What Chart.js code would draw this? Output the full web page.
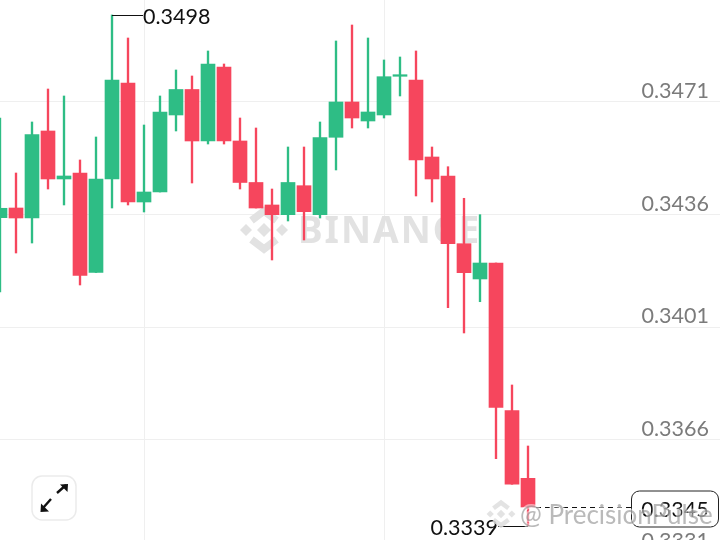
<!DOCTYPE html>
<html>
<head>
<meta charset="utf-8">
<style>
html,body{margin:0;padding:0;background:#fff;width:720px;height:540px;overflow:hidden}
#box{position:absolute;left:0;top:0;width:720px;height:600px}
</style>
<script src="https://cdn.jsdelivr.net/npm/chart.js@4"></script>
</head>
<body>
<div id="box"><canvas id="c" width="720" height="600"></canvas></div>
<script>
const opens  = [0.343501,0.343802,0.343491,0.346198,0.344705,0.344891,0.341796,0.344705,0.347691,0.343989,0.3443,0.346696,0.347489,0.345887,0.348189,0.345887,0.344596,0.343896,0.343594,0.344496,0.343594,0.346002,0.3471,0.346509,0.346696,0.3479,0.347784,0.345389,0.344798,0.342692,0.341594,0.342091,0.337496,0.335393];
const highs  = [0.346602,0.344891,0.346478,0.347504,0.347287,0.345296,0.346011,0.349807,0.349091,0.346384,0.347287,0.348096,0.347909,0.348687,0.348282,0.346602,0.346291,0.344393,0.3457,0.3457,0.346478,0.348998,0.349495,0.349091,0.348407,0.3485,0.348687,0.3457,0.345087,0.344104,0.343594,0.342091,0.338296,0.336398];
const lows   = [0.341189,0.342402,0.342713,0.344393,0.343896,0.341407,0.341796,0.343802,0.343896,0.343678,0.3443,0.346198,0.34458,0.345793,0.345793,0.344393,0.343802,0.342185,0.343398,0.342807,0.343491,0.344985,0.346291,0.346291,0.346602,0.347287,0.344176,0.343989,0.340701,0.339914,0.340887,0.336003,0.335207,0.333909];
const closes = [0.343793,0.343491,0.346089,0.344705,0.344798,0.341702,0.344705,0.347784,0.343989,0.3443,0.346789,0.347489,0.345887,0.348282,0.345887,0.344596,0.343802,0.343594,0.344596,0.343687,0.345989,0.3471,0.346602,0.346789,0.347887,0.347949,0.345296,0.344705,0.342692,0.34179,0.342091,0.337602,0.335207,0.3345];
const slotCount = 46;
const slots = Array.from({length:slotCount},(_,i)=>String(i));
const gridSlots = [9,24];
const priceTicks = [0.3471,0.3436,0.3401,0.3366,0.3331];
const highLabel = {slot:7, price:0.3498, text:'0.3498'};
const lowLabel = {slot:33, price:0.3339, text:'0.3339'};
const lastPrice = {slot:33, price:0.3345, text:'0.3345'};
const GREEN='#2EBD85', RED='#F6465D';
const FONT='Lato, "Noto Sans", sans-serif';

const colors = closes.map((c,i)=>c>=opens[i]?GREEN:RED);

function logo(g,cx,cy,s){
  const sq=(x,y,r)=>{g.beginPath();g.moveTo(x,y-r);g.lineTo(x+r,y);g.lineTo(x,y+r);g.lineTo(x-r,y);g.closePath();g.fill();};
  sq(cx,cy,7*s); sq(cx-18*s,cy,6*s); sq(cx+18*s,cy,6*s);
  g.lineWidth=7.5*s; g.lineJoin='miter';
  g.beginPath();g.moveTo(cx-12.5*s,cy-9.5*s);g.lineTo(cx,cy-19*s);g.lineTo(cx+12.5*s,cy-9.5*s);g.stroke();
  g.beginPath();g.moveTo(cx-12.5*s,cy+9.5*s);g.lineTo(cx,cy+19*s);g.lineTo(cx+12.5*s,cy+9.5*s);g.stroke();
}

const underlay = {
  id:'underlay',
  beforeDatasetsDraw(ch){
    const g=ch.ctx; g.save();
    g.fillStyle='#E2E2E2'; g.strokeStyle='#E2E2E2';
    logo(g,264,230,1);
    g.font='bold 37px "Noto Sans", sans-serif'; g.letterSpacing='2px'; g.textAlign='left'; g.textBaseline='alphabetic';
    g.fillText('BINANCE',298,243);
    g.letterSpacing='0px';
    g.restore();
  }
};
const overlay = {
  id:'overlay',
  afterDraw(ch){
    const g=ch.ctx, xs=ch.scales.x, ys=ch.scales.y; g.save();
    g.strokeStyle='#111'; g.fillStyle='#111'; g.lineWidth=1;
    g.font='21.5px '+FONT; g.textBaseline='middle';
    // high
    let x=xs.getPixelForValue(highLabel.slot), y=Math.round(ys.getPixelForValue(highLabel.price))+.5;
    g.beginPath();g.moveTo(x,y);g.lineTo(x+31,y);g.stroke();
    g.textAlign='left';g.fillText(highLabel.text,x+31,y+1.5);
    // low
    x=xs.getPixelForValue(lowLabel.slot); y=Math.round(ys.getPixelForValue(lowLabel.price))+.5;
    g.beginPath();g.moveTo(x,y);g.lineTo(x-30,y);g.stroke();
    g.textAlign='right';g.fillText(lowLabel.text,x-30,y+1.5);
    // last price
    x=xs.getPixelForValue(lastPrice.slot); y=Math.round(ys.getPixelForValue(lastPrice.price))+.5;
    g.setLineDash([5,4]);g.beginPath();g.moveTo(x+8,y);g.lineTo(632,y);g.stroke();g.setLineDash([]);
    g.fillStyle='#fff';g.strokeStyle='#222';g.beginPath();g.roundRect(631.5,491,87,36,8);g.fill();g.stroke();
    g.fillStyle='#111';g.textAlign='center';g.fillText(lastPrice.text,675,510);
    // expand button
    g.strokeStyle='#EBEBEB';g.lineWidth=1.5;g.fillStyle='#fff';
    g.beginPath();g.roundRect(32,476,44,44,10);g.fill();g.stroke();
    g.strokeStyle='#111';g.fillStyle='#111';g.lineWidth=2.4;
    g.beginPath();g.moveTo(57,493);g.lineTo(66,485);g.moveTo(51,499);g.lineTo(43,508);g.stroke();
    g.beginPath();g.moveTo(68,484);g.lineTo(60,484.5);g.lineTo(67.5,492);g.closePath();g.fill();
    g.beginPath();g.moveTo(40.5,512);g.lineTo(49,511.5);g.lineTo(41,503.5);g.closePath();g.fill();
    // bottom watermark
    g.fillStyle='rgba(222,222,222,0.85)';g.strokeStyle='rgba(222,222,222,0.85)';
    logo(g,501,514,0.6);
    g.textAlign='left';g.font='26px '+FONT;
    g.lineWidth=3;g.strokeStyle='rgba(255,255,255,0.5)';g.strokeText('@ PrecisionPulse',520,516);
    g.fillStyle='rgba(140,140,140,0.6)';
    g.fillText('@ PrecisionPulse',520,516);
    g.restore();
  }
};

const noMargins = s => {
  if (s.isHorizontal()) s.height = 0; else s.width = 0;
  s.paddingTop = s.paddingBottom = s.paddingLeft = s.paddingRight = 0;
};

new Chart(document.getElementById('c'),{
  type:'bar',
  data:{labels:slots,datasets:[
    {label:'Wick',data:lows.map((l,i)=>[l,highs[i]]),backgroundColor:colors,barThickness:1.7,order:2,grouped:false},
    {label:'Body',data:opens.map((o,i)=>[o,closes[i]]),backgroundColor:colors,barThickness:14,order:1,grouped:false,minBarLength:1}
  ]},
  plugins:[underlay,overlay],
  options:{
    responsive:false,animation:false,devicePixelRatio:1,
    layout:{padding:0,autoPadding:false},
    plugins:{legend:{display:false},tooltip:{enabled:false}},
    scales:{
      x:{type:'category',offset:false,display:true,border:{display:false},afterFit:noMargins,
         grid:{offset:false,drawTicks:false,color:c=>gridSlots.includes(c.index)?'#EFEFEF':'rgba(0,0,0,0)'},
         ticks:{display:false,autoSkip:false}},
      y:{type:'linear',position:'right',min:0.331607,max:0.350273,border:{display:false},afterFit:noMargins,
         grid:{drawTicks:false,color:'#EFEFEF'},
         afterBuildTicks:s=>{s.ticks=priceTicks.map(v=>({value:v}));},
         ticks:{mirror:true,padding:-11,labelOffset:-10.5,color:'#7B7B7B',font:{size:21.5,family:FONT},callback:v=>v.toFixed(4)}}
    }
  }
});
</script>
</body>
</html>
